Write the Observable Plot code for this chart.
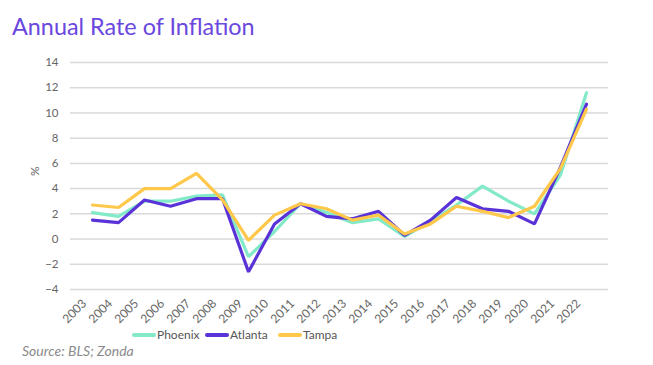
<!DOCTYPE html>
<html>
<head>
<meta charset="utf-8">
<script src="https://cdn.jsdelivr.net/npm/d3@7"></script>
<script src="https://cdn.jsdelivr.net/npm/@observablehq/plot@0.6"></script>
<style>
  html, body { margin: 0; padding: 0; background: #fff; }
  body { width: 653px; height: 365px; position: relative; overflow: hidden; font-family: Lato, "Noto Sans", sans-serif; }
  #title { position: absolute; left: 12px; top: 12px; font-size: 23.4px; line-height: 28px; color: #6a47de; white-space: nowrap; }
  #chart { position: absolute; left: 0; top: 50px; }
  #legend { position: absolute; left: 0; top: 327px; width: 653px; font-size: 12px; color: #555; }
  .item { position: absolute; display: flex; align-items: center; white-space: nowrap; }
  .sw { width: 24px; height: 4px; border-radius: 2px; margin-right: 1px; }
  #caption { position: absolute; left: 22px; top: 342px; font-size: 14px; font-style: italic; color: #8a8a8a; }
</style>
</head>
<body>
<div id="title">Annual Rate of Inflation</div>
<div id="chart"></div>
<div id="legend"></div>
<div id="caption">Source: BLS; Zonda</div>
<script>
const years = ["2003","2004","2005","2006","2007","2008","2009","2010","2011","2012","2013","2014","2015","2016","2017","2018","2019","2020","2021","2022"];
const phoenix = [2.1, 1.8, 3.0, 3.0, 3.4, 3.5, -1.4, 0.6, 2.8, 2.1, 1.3, 1.6, 0.2, 1.4, 2.7, 4.2, 3.0, 2.0, 5.1, 11.6];
const atlanta = [1.5, 1.3, 3.1, 2.6, 3.2, 3.2, -2.6, 1.2, 2.8, 1.8, 1.6, 2.2, 0.3, 1.5, 3.3, 2.4, 2.2, 1.2, 5.7, 10.7];
const tampa   = [2.7, 2.5, 4.0, 4.0, 5.2, 3.1, -0.1, 1.9, 2.8, 2.4, 1.5, 1.9, 0.4, 1.2, 2.6, 2.2, 1.7, 2.6, 5.6, 10.3];
const seriesNames = ["Phoenix", "Atlanta", "Tampa"];
const seriesColors = ["#82e9c9", "#5a33d8", "#ffc84a"];
const yTicks = [-4, -2, 0, 2, 4, 6, 8, 10, 12, 14];

const seriesValues = [phoenix, atlanta, tampa];
const data = seriesNames.flatMap((name, i) => years.map((y, j) => ({series: name, year: y, value: seriesValues[i][j]})));

const plot = Plot.plot({
  width: 653,
  height: 278,
  marginTop: 12,
  marginBottom: 39,
  marginLeft: 70,
  marginRight: 45,
  style: { fontFamily: "Lato, 'Noto Sans', sans-serif", fontSize: "11px", color: "#666", background: "transparent", overflow: "visible" },
  x: { type: "point", domain: years, padding: 0.5, label: null },
  y: { domain: [-4, 14], label: null },
  color: { domain: seriesNames, range: seriesColors },
  marks: [
    Plot.gridY(yTicks, { stroke: "#d9d9d9", strokeOpacity: 1, strokeWidth: 1.5 }),
    Plot.axisY(yTicks, { tickSize: 0, tickPadding: 12, fill: "#666", fontSize: 11.5, label: null }),
    Plot.axisX(years, { tickSize: 0, tickRotate: -45, tickPadding: 6, dx: -8, dy: 6, fill: "#666", fontSize: 12, label: null }),
    Plot.text(["%"], { frameAnchor: "left", dx: -35, rotate: -90, fill: "#666", fontSize: 12 }),
    Plot.line(data, { x: "year", y: "value", z: "series", stroke: "series", strokeWidth: 3.2, strokeLinejoin: "miter", curve: "linear" })
  ]
});
document.getElementById("chart").appendChild(plot);

const legend = document.getElementById("legend");
const lefts = [132, 205, 278];
seriesNames.forEach((name, i) => {
  const item = document.createElement("div");
  item.className = "item";
  item.style.left = lefts[i] + "px";
  const sw = document.createElement("div");
  sw.className = "sw";
  sw.style.background = seriesColors[i];
  const t = document.createElement("span");
  t.textContent = name;
  item.appendChild(sw);
  item.appendChild(t);
  legend.appendChild(item);
});
</script>
</body>
</html>
